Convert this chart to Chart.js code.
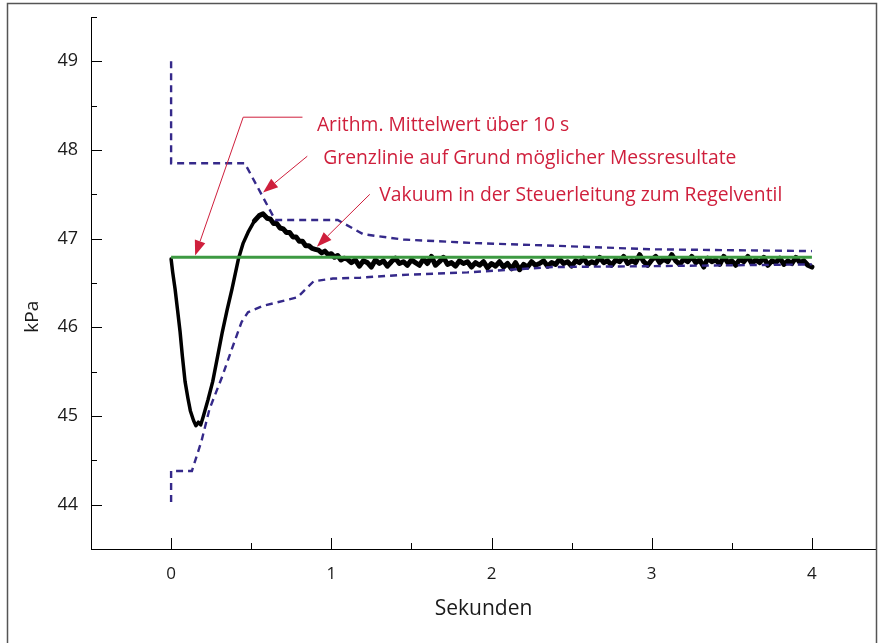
<!DOCTYPE html>
<html>
<head>
<meta charset="utf-8">
<script src="https://cdn.jsdelivr.net/npm/chart.js@4.4.1/dist/chart.umd.min.js"></script>
<style>
  html, body { margin: 0; padding: 0; background: #fff; }
  #wrap { width: 880px; height: 643px; }
</style>
</head>
<body>
<div id="wrap"><canvas id="c" width="880" height="643"></canvas></div>
<script>
// ---------- data ----------
const xTicks = [0, 1, 2, 3, 4];
const yTicks = [44, 45, 46, 47, 48, 49];

// measured vacuum in the control line (kPa) over time (s)
const timeSec = [
  0, 0.01, 0.025, 0.04, 0.056, 0.07, 0.087, 0.105, 0.12, 0.14, 0.155, 0.17, 0.185, 0.2, 0.23, 0.26, 0.29,
  0.32, 0.35, 0.38, 0.42, 0.45, 0.48, 0.52, 0.55, 0.574, 0.6, 0.62, 0.64, 0.66, 0.68, 0.7, 0.72,
  0.74, 0.76, 0.78, 0.8, 0.82, 0.84, 0.86, 0.88, 0.9, 0.92, 0.94, 0.96, 0.98, 1.0, 1.02, 1.04, 1.06, 1.08,
  1.100, 1.125, 1.150, 1.175, 1.200, 1.225, 1.250, 1.275, 1.300, 1.325, 1.350, 1.375, 1.400, 1.425, 1.450, 1.475,
  1.500, 1.525, 1.550, 1.575, 1.600, 1.625, 1.650, 1.675, 1.700, 1.725, 1.750, 1.775, 1.800, 1.825, 1.850, 1.875,
  1.900, 1.925, 1.950, 1.975, 2.000, 2.025, 2.050, 2.075, 2.100, 2.125, 2.150, 2.175, 2.200, 2.225, 2.250, 2.275,
  2.300, 2.325, 2.350, 2.375, 2.400, 2.425, 2.450, 2.475, 2.500, 2.525, 2.550, 2.575, 2.600, 2.625, 2.650, 2.675,
  2.700, 2.725, 2.750, 2.775, 2.800, 2.825, 2.850, 2.875, 2.900, 2.925, 2.950, 2.975, 3.000, 3.025, 3.050, 3.075,
  3.100, 3.125, 3.150, 3.175, 3.200, 3.225, 3.250, 3.275, 3.300, 3.325, 3.350, 3.375, 3.400, 3.425, 3.450, 3.475,
  3.500, 3.525, 3.550, 3.575, 3.600, 3.625, 3.650, 3.675, 3.700, 3.725, 3.750, 3.775, 3.800, 3.825, 3.850, 3.875,
  3.900, 3.925, 3.950, 3.975, 4.000
];
const vacuumKPa = [
  46.77, 46.62, 46.43, 46.20, 45.95, 45.68, 45.39, 45.20, 45.06, 44.95, 44.89, 44.93, 44.90, 44.99, 45.18, 45.39, 45.67,
  45.95, 46.20, 46.43, 46.77, 46.95, 47.07, 47.20, 47.26, 47.28, 47.23, 47.22, 47.17, 47.17, 47.12, 47.11, 47.07,
  47.07, 47.02, 47.02, 46.97, 46.97, 46.92, 46.92, 46.89, 46.88, 46.87, 46.84, 46.86, 46.82, 46.83, 46.79, 46.81, 46.76, 46.78,
  46.77, 46.73, 46.76, 46.69, 46.75, 46.73, 46.68, 46.76, 46.72, 46.75, 46.69, 46.74, 46.78, 46.72, 46.74, 46.70,
  46.76, 46.73, 46.70, 46.77, 46.72, 46.80, 46.70, 46.74, 46.79, 46.71, 46.73, 46.69, 46.75, 46.72, 46.74, 46.68,
  46.73, 46.70, 46.74, 46.67, 46.72, 46.69, 46.74, 46.68, 46.72, 46.66, 46.73, 46.65, 46.71, 46.68, 46.74, 46.70,
  46.72, 46.75, 46.69, 46.73, 46.71, 46.77, 46.72, 46.74, 46.69, 46.75, 46.73, 46.78, 46.71, 46.74, 46.72, 46.79,
  46.73, 46.75, 46.70, 46.76, 46.74, 46.80, 46.72, 46.75, 46.73, 46.82, 46.74, 46.70, 46.76, 46.80, 46.73, 46.77,
  46.74, 46.82, 46.75, 46.71, 46.77, 46.74, 46.80, 46.73, 46.76, 46.68, 46.78, 46.74, 46.76, 46.71, 46.80, 46.73,
  46.75, 46.70, 46.77, 46.74, 46.80, 46.72, 46.76, 46.73, 46.79, 46.70, 46.75, 46.73, 46.78, 46.71, 46.75, 46.72,
  46.79, 46.73, 46.75, 46.70, 46.68
];

// arithmetic mean over 10 s
const meanTime = [0, 4];
const meanKPa = [46.79, 46.79];

// boundary lines from possible measurement results
const upperTime = [0, 0, 0.46, 0.65, 1.04, 1.2, 1.45, 1.9, 2.4, 3.0, 4.0];
const upperKPa  = [49.0, 47.85, 47.85, 47.21, 47.21, 47.05, 46.99, 46.95, 46.92, 46.88, 46.86];
const lowerTime = [0, 0, 0.13, 0.19, 0.24, 0.32, 0.38, 0.44, 0.48, 0.57, 0.79, 0.89, 1.01, 1.18, 1.43, 1.85, 2.38, 3.0, 4.0];
const lowerKPa  = [44.03, 44.38, 44.38, 44.72, 45.08, 45.45, 45.76, 46.06, 46.17, 46.24, 46.34, 46.52, 46.55, 46.56, 46.59, 46.62, 46.68, 46.69, 46.71];

// annotation labels
const annoLabels = [
  'Arithm. Mittelwert über 10 s',
  'Grenzlinie auf Grund möglicher Messresultate',
  'Vakuum in der Steuerleitung zum Regelventil'
];
const xTitle = 'Sekunden';
const yTitle = 'kPa';

// ---------- helpers ----------
const pairs = (xs, ys) => xs.map((x, i) => ({ x: x, y: ys[i] }));

// annotation geometry in data coordinates (text anchor + leader polyline ending at arrow tip)
const annoGeom = [
  { text: [0.91, 48.21], path: [[0.82, 48.37], [0.45, 48.37], [0.15, 46.81]] },
  { text: [0.95, 47.84], path: [[0.85, 47.93], [0.574, 47.52]] },
  { text: [1.30, 47.42], path: [[1.24, 47.50], [0.91, 46.91]] }
];

const RED = '#cf1f3c';
const DASH = '#35298a';
const FONT = "'Open Sans', 'DejaVu Sans', sans-serif";
const TXT = '#1a1a1a';

const decor = {
  id: 'decor',
  beforeDraw(chart) {
    const ctx = chart.ctx;
    ctx.save();
    ctx.fillStyle = '#fff';
    ctx.fillRect(0, 0, chart.width, chart.height);
    ctx.restore();
  },
  afterDraw(chart) {
    const ctx = chart.ctx;
    const xs = chart.scales.x, ys = chart.scales.y;
    const area = chart.chartArea;
    ctx.save();
    // frame
    ctx.strokeStyle = '#555';
    ctx.lineWidth = 1.5;
    ctx.beginPath();
    ctx.moveTo(7.5, chart.height);
    ctx.lineTo(7.5, 3.5);
    ctx.lineTo(876.5, 3.5);
    ctx.lineTo(876.5, chart.height);
    ctx.stroke();

    // inward ticks
    ctx.strokeStyle = '#000';
    ctx.lineWidth = 1;
    ctx.beginPath();
    yTicks.forEach(v => {
      const py = Math.round(ys.getPixelForValue(v)) + 0.5;
      ctx.moveTo(area.left, py); ctx.lineTo(area.left + 11, py);
      const pm = Math.round(ys.getPixelForValue(v + 0.5)) + 0.5;
      ctx.moveTo(area.left, pm); ctx.lineTo(area.left + 6, pm);
    });
    xTicks.forEach(v => {
      const px = Math.round(xs.getPixelForValue(v)) + 0.5;
      ctx.moveTo(px, area.bottom); ctx.lineTo(px, area.bottom - 11);
      if (v + 0.5 <= xs.max) {
        const pm = Math.round(xs.getPixelForValue(v + 0.5)) + 0.5;
        ctx.moveTo(pm, area.bottom); ctx.lineTo(pm, area.bottom - 6);
      }
    });
    ctx.stroke();

    // y axis title
    ctx.save();
    ctx.translate(33, ys.getPixelForValue(46.12));
    ctx.rotate(-Math.PI / 2);
    ctx.font = '19px ' + FONT;
    ctx.fillStyle = TXT;
    ctx.textAlign = 'center';
    ctx.textBaseline = 'middle';
    ctx.fillText(yTitle, 0, 0);
    ctx.restore();

    // annotations
    ctx.strokeStyle = RED;
    ctx.fillStyle = RED;
    ctx.lineWidth = 1;
    annoGeom.forEach((g, i) => {
      const pts = g.path.map(p => [xs.getPixelForValue(p[0]), ys.getPixelForValue(p[1])]);
      const n = pts.length;
      const tip = pts[n - 1], prev = pts[n - 2];
      const ang = Math.atan2(tip[1] - prev[1], tip[0] - prev[0]);
      const headLen = 15, headW = 5.5;
      const bx = tip[0] - headLen * Math.cos(ang), by = tip[1] - headLen * Math.sin(ang);
      ctx.beginPath();
      ctx.moveTo(pts[0][0], pts[0][1]);
      for (let k = 1; k < n - 1; k++) ctx.lineTo(pts[k][0], pts[k][1]);
      ctx.lineTo(bx, by);
      ctx.stroke();
      ctx.beginPath();
      ctx.moveTo(tip[0], tip[1]);
      ctx.lineTo(bx + headW * Math.sin(ang), by - headW * Math.cos(ang));
      ctx.lineTo(bx - headW * Math.sin(ang), by + headW * Math.cos(ang));
      ctx.closePath();
      ctx.fill();
      ctx.font = '19.3px ' + FONT;
      ctx.textAlign = 'left';
      ctx.textBaseline = 'alphabetic';
      ctx.fillText(annoLabels[i], xs.getPixelForValue(g.text[0]), ys.getPixelForValue(g.text[1]));
    });
    ctx.restore();
  }
};

new Chart(document.getElementById('c'), {
  type: 'line',
  data: {
    datasets: [
      { label: 'Mittelwert', data: pairs(meanTime, meanKPa), borderColor: '#3d9a42', borderWidth: 3,
        pointRadius: 0, tension: 0, order: 0 },
      { label: 'Grenze oben', data: pairs(upperTime, upperKPa), borderColor: DASH, borderWidth: 2.4,
        borderDash: [7, 5], pointRadius: 0, tension: 0, order: 1 },
      { label: 'Grenze unten', data: pairs(lowerTime, lowerKPa), borderColor: DASH, borderWidth: 2.4,
        borderDash: [7, 5], pointRadius: 0, tension: 0, order: 2 },
      { label: 'Vakuum', data: pairs(timeSec, vacuumKPa), borderColor: '#000', borderWidth: 3.5,
        pointRadius: 0, tension: 0, order: 3, borderJoinStyle: 'round', borderCapStyle: 'round',
        segment: { borderWidth: c => (c.p0.parsed.x >= 0.5 ? 5 : 3.5) } }
    ]
  },
  options: {
    responsive: false,
    animation: false,
    devicePixelRatio: 1,
    layout: { padding: { top: 17, right: 4, left: 0, bottom: 0 } },
    plugins: { legend: { display: false }, tooltip: { enabled: false } },
    scales: {
      x: {
        type: 'linear', min: -0.5, max: 4.4,
        afterBuildTicks: s => { s.ticks = xTicks.map(v => ({ value: v })); },
        afterFit: s => { s.height = 94; s.paddingLeft = 0; s.paddingRight = 0; },
        grid: { drawOnChartArea: false, drawTicks: false },
        border: { display: true, color: '#000', width: 1 },
        ticks: { color: TXT, padding: 15, font: { family: FONT, size: 17 } },
        title: { display: true, text: xTitle, color: TXT,
                 font: { family: FONT, size: 21 }, padding: { top: 0, bottom: 21 } }
      },
      y: {
        type: 'linear', min: 43.5, max: 49.5,
        afterBuildTicks: s => { s.ticks = yTicks.map(v => ({ value: v })); },
        afterFit: s => { s.width = 91; s.paddingTop = 0; s.paddingBottom = 0; },
        grid: { drawOnChartArea: false, drawTicks: false },
        border: { display: true, color: '#000', width: 1 },
        ticks: { color: TXT, padding: 13, font: { family: FONT, size: 18 } },
        title: { display: false }
      }
    }
  },
  plugins: [decor]
});
</script>
</body>
</html>
